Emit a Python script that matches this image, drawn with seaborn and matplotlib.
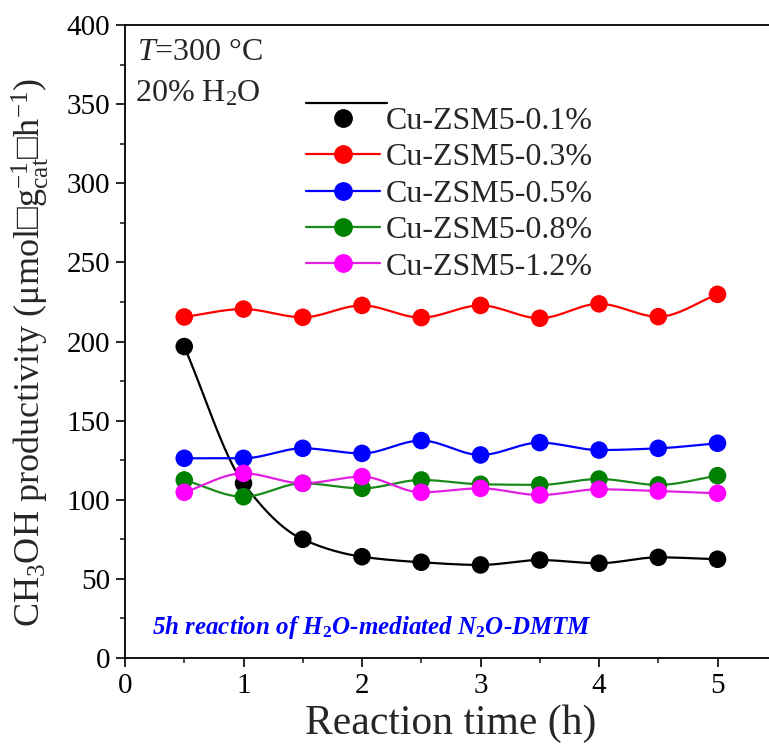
import numpy as np
import pandas as pd
import matplotlib
matplotlib.use("Agg")
import matplotlib.pyplot as plt
from matplotlib.lines import Line2D
from matplotlib.legend_handler import HandlerLine2DCompound
import seaborn as sns

# Reaction time (h)
time_h = [0.5, 1.0, 1.5, 2.0, 2.5, 3.0, 3.5, 4.0, 4.5, 5.0]

# CH3OH productivity (umol g_cat^-1 h^-1) for each Cu loading
cu_01 = [196.8, 110.4, 75.0, 64.0, 60.5, 58.8, 61.9, 59.9, 63.6, 62.4]
cu_03 = [215.5, 220.5, 215.3, 222.8, 215.1, 222.8, 214.7, 223.8, 215.7, 229.8]
cu_05 = [126.2, 126.2, 132.5, 129.3, 137.4, 128.3, 136.1, 131.4, 132.5, 135.7]
cu_08 = [112.5, 101.9, 110.4, 107.2, 112.5, 109.8, 109.4, 113.1, 109.4, 115.2]
cu_12 = [104.7, 116.7, 110.4, 114.6, 104.7, 107.2, 103.0, 106.6, 105.5, 104.1]

series_names = ["Cu-ZSM5-0.1%", "Cu-ZSM5-0.3%", "Cu-ZSM5-0.5%",
                "Cu-ZSM5-0.8%", "Cu-ZSM5-1.2%"]
series_vals = [cu_01, cu_03, cu_05, cu_08, cu_12]
colors = ["#000000", "#ff0000", "#0000ff", "#008000", "#ff00ff"]
line_colors = ["#000000", "#ff0000", "#0000ff", "#1a8a1a", "#e020e0"]

x_ticks = [0, 1, 2, 3, 4, 5]
x_minor = [0.5, 1.5, 2.5, 3.5, 4.5]
y_ticks = [0, 50, 100, 150, 200, 250, 300, 350, 400]
y_minor = [25, 75, 125, 175, 225, 275, 325, 375]


def pchip_curve(x, y, n=40):
    """Shape-preserving cubic through the measured points, for the connecting line."""
    x = np.asarray(x, float)
    y = np.asarray(y, float)
    h = np.diff(x)
    d = np.diff(y) / h
    m = np.zeros_like(y)
    for k in range(1, len(x) - 1):
        if d[k - 1] * d[k] > 0:
            w1 = 2 * h[k] + h[k - 1]
            w2 = h[k] + 2 * h[k - 1]
            m[k] = (w1 + w2) / (w1 / d[k - 1] + w2 / d[k])
    m[0] = d[0]
    m[-1] = d[-1]
    xs, ys = [], []
    for k in range(len(x) - 1):
        t = np.linspace(0, 1, n, endpoint=(k == len(x) - 2))
        h00 = 2 * t**3 - 3 * t**2 + 1
        h10 = t**3 - 2 * t**2 + t
        h01 = -2 * t**3 + 3 * t**2
        h11 = t**3 - t**2
        xs.append(x[k] + t * h[k])
        ys.append(h00 * y[k] + h10 * h[k] * m[k] + h01 * y[k + 1] + h11 * h[k] * m[k + 1])
    return np.concatenate(xs), np.concatenate(ys)


sns.set_theme(style="ticks")
plt.rcParams["font.family"] = ["Liberation Serif", "DejaVu Serif"]
plt.rcParams["mathtext.fontset"] = "custom"
plt.rcParams["mathtext.rm"] = "Liberation Serif"
plt.rcParams["mathtext.it"] = "Liberation Serif:italic"
plt.rcParams["mathtext.bf"] = "Liberation Serif:bold"
plt.rcParams["mathtext.bfit"] = "Liberation Serif:bold:italic"

fig = plt.figure(figsize=(7.69, 7.47), dpi=100)
ax = fig.add_axes([125 / 769, 1 - 658 / 747, (5.5 * 118.5) / 769, (658 - 25) / 747])

points = pd.DataFrame({
    "time": np.tile(time_h, len(series_names)),
    "value": np.concatenate(series_vals),
    "sample": np.repeat(series_names, len(time_h)),
})

curves = []
for name, vals in zip(series_names, series_vals):
    cx, cy = pchip_curve(time_h, vals)
    curves.append(pd.DataFrame({"time": cx, "value": cy, "sample": name}))
curves = pd.concat(curves, ignore_index=True)

sns.lineplot(data=curves, x="time", y="value", hue="sample",
             palette=dict(zip(series_names, line_colors)), linewidth=1.6,
             legend=False, ax=ax, sort=False, estimator=None)
sns.scatterplot(data=points, x="time", y="value", hue="sample",
                palette=dict(zip(series_names, colors)), s=160,
                linewidth=0, legend=False, ax=ax, zorder=3)

ax.set_xlim(0, 5.5)
ax.set_ylim(0, 400)
ax.set_xticks(x_ticks)
ax.set_xticks(x_minor, minor=True)
ax.set_yticks(y_ticks)
ax.set_yticks(y_minor, minor=True)
ax.tick_params(axis="both", which="major", direction="out", length=6.5,
               width=1.2, labelsize=21, colors="black", pad=4)
ax.tick_params(axis="both", which="minor", direction="out", length=3.5, width=1.2)
for side in ["left", "bottom", "top", "right"]:
    ax.spines[side].set_linewidth(1.3)
    ax.spines[side].set_color("black")

ax.set_xlabel("Reaction time (h)", fontsize=30, labelpad=4)
ax.set_ylabel(r"CH$_3$OH productivity (μmol□g$^{-1}_{\rm cat}$□h$^{-1}$)",
              fontsize=26)
ax.yaxis.set_label_coords(-0.114, 0.483)

ax.text(0.018, 0.979, r"$\it{T}$=300 °C", transform=ax.transAxes,
        fontsize=23, va="top", ha="left")
ax.text(0.016, 0.914, r"20% H$_2$O", transform=ax.transAxes,
        fontsize=23, va="top", ha="left")
ax.text(2.08, 19, r"5h reaction of H$_{\bf 2}$O-mediated N$_{\bf 2}$O-DMTM",
        fontsize=18, color="#0000ff", fontweight="bold", fontstyle="italic",
        ha="center", va="center")


class RaisedLineHandler(HandlerLine2DCompound):
    """Legend handle whose line sits above its marker."""

    def create_artists(self, legend, orig_handle, xdescent, ydescent,
                       width, height, fontsize, trans):
        line, marker = super().create_artists(legend, orig_handle, xdescent,
                                              ydescent, width, height,
                                              fontsize, trans)
        yd = np.asarray(line.get_ydata(), float)
        line.set_ydata(yd + 0.67 * height)
        xd = np.asarray(line.get_xdata(), float)
        line.set_xdata([xd[0], xd[-1] + 0.1 * width])
        return [line, marker]


handles = [Line2D([], [], color=lc, marker="o", markersize=12.5,
                  markerfacecolor=c, markeredgecolor=c, linewidth=1.6)
           for c, lc in zip(colors, line_colors)]
leg = ax.legend(handles, series_names, loc="upper left",
                bbox_to_anchor=(0.278, 0.871), frameon=False, fontsize=23,
                handlelength=2.3, handletextpad=0.2, labelspacing=0.22,
                borderaxespad=0, borderpad=0,
                handler_map={handles[0]: RaisedLineHandler()})

fig.savefig("out.png", dpi=100)
